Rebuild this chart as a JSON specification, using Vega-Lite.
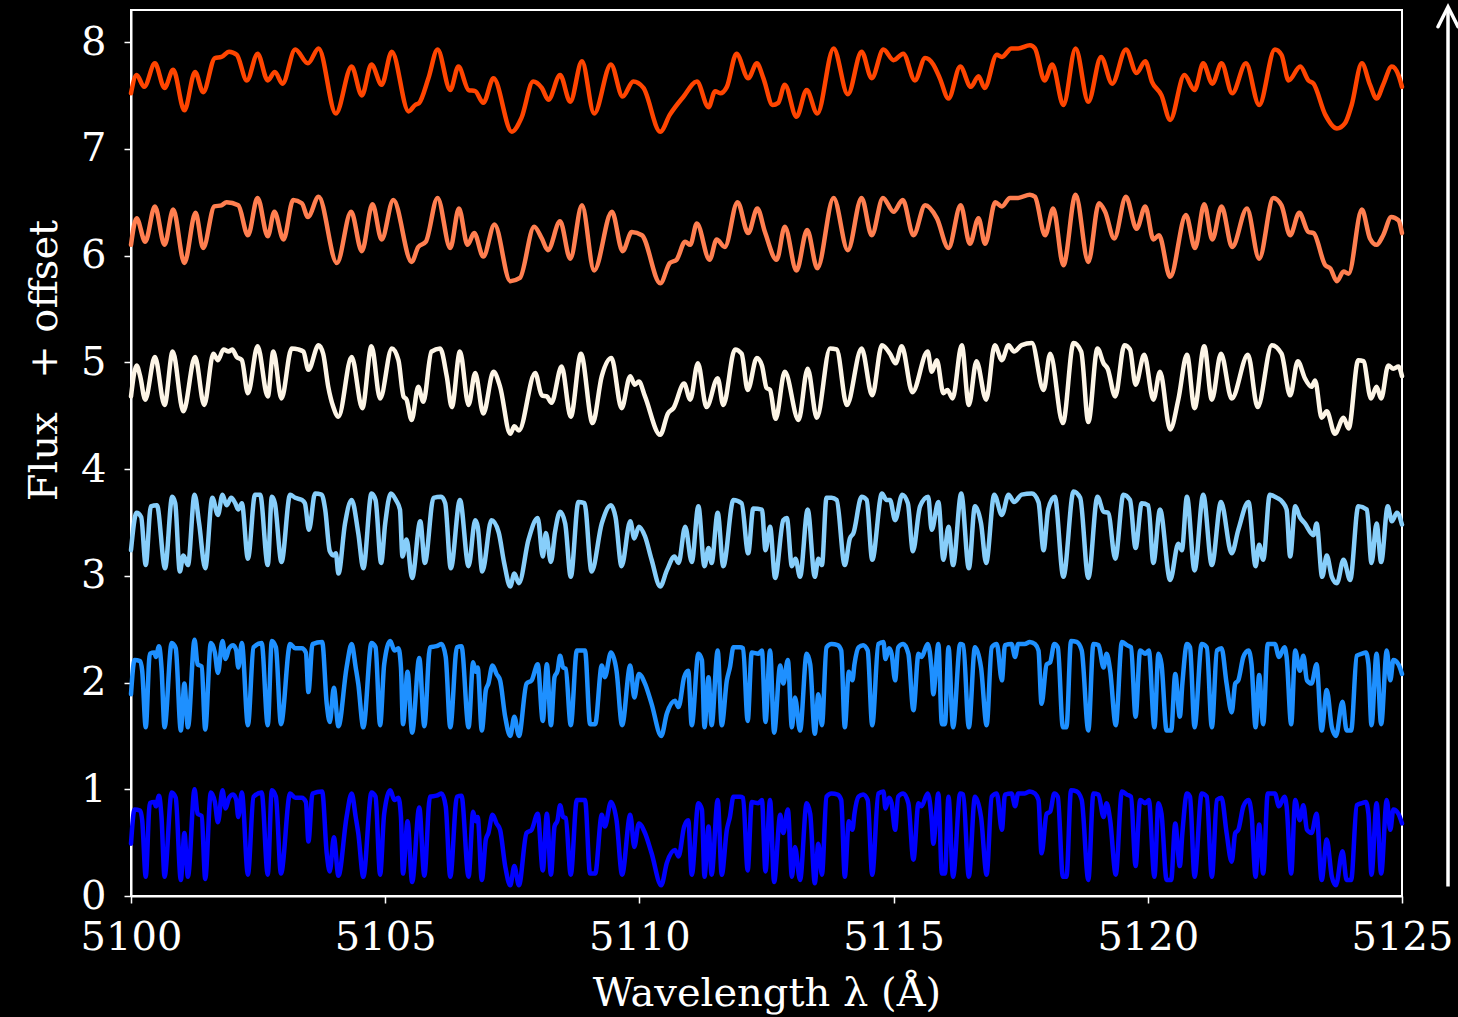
{
"$schema":"https://vega.github.io/schema/vega-lite/v6.json",
"width":1271,"height":886,
"autosize":{"type":"none"},
"padding":{"left":131,"top":10,"right":56,"bottom":121},
"background":"#000000",
"config":{"view":{"stroke":"#FFFFFF","strokeWidth":2},"font":"DejaVu Serif",
"axis":{"domainColor":"#FFFFFF","domainWidth":2,"tickColor":"#FFFFFF","tickWidth":1.5,"tickSize":7,"labelColor":"#FFFFFF","labelFont":"DejaVu Serif","labelFontSize":40,"titleColor":"#FFFFFF","titleFont":"DejaVu Serif","titleFontSize":40,"titleFontWeight":"normal","grid":false,"labelOverlap":false,"labelFlush":false,"labelBound":false}},
"datasets":{
"a":[{"w":5100.00,"f":0.49},{"w":5100.07,"f":0.81},{"w":5100.18,"f":0.80},{"w":5100.22,"f":0.71},{"w":5100.29,"f":0.18},{"w":5100.37,"f":0.87},{"w":5100.46,"f":0.88},{"w":5100.49,"f":0.84},{"w":5100.55,"f":0.94},{"w":5100.60,"f":0.74},{"w":5100.66,"f":0.18},{"w":5100.80,"f":0.97},{"w":5100.88,"f":0.92},{"w":5100.98,"f":0.15},{"w":5101.05,"f":0.59},{"w":5101.12,"f":0.18},{"w":5101.25,"f":1.00},{"w":5101.31,"f":0.77},{"w":5101.39,"f":0.75},{"w":5101.46,"f":0.16},{"w":5101.57,"f":0.97},{"w":5101.65,"f":0.88},{"w":5101.71,"f":0.69},{"w":5101.80,"f":0.99},{"w":5101.86,"f":0.82},{"w":5101.93,"f":0.92},{"w":5102.01,"f":0.95},{"w":5102.07,"f":0.90},{"w":5102.11,"f":0.74},{"w":5102.18,"f":0.97},{"w":5102.30,"f":0.20},{"w":5102.41,"f":0.93},{"w":5102.57,"f":0.97},{"w":5102.69,"f":0.20},{"w":5102.77,"f":0.99},{"w":5102.85,"f":0.93},{"w":5102.95,"f":0.21},{"w":5103.13,"f":0.96},{"w":5103.23,"f":0.92},{"w":5103.36,"f":0.92},{"w":5103.44,"f":0.88},{"w":5103.49,"f":0.51},{"w":5103.57,"f":0.96},{"w":5103.76,"f":0.98},{"w":5103.85,"f":0.40},{"w":5103.91,"f":0.23},{"w":5103.99,"f":0.55},{"w":5104.08,"f":0.19},{"w":5104.24,"f":0.74},{"w":5104.34,"f":0.96},{"w":5104.42,"f":0.74},{"w":5104.47,"f":0.59},{"w":5104.57,"f":0.18},{"w":5104.73,"f":0.97},{"w":5104.81,"f":0.93},{"w":5104.90,"f":0.20},{"w":5104.98,"f":0.77},{"w":5105.10,"f":0.99},{"w":5105.18,"f":0.90},{"w":5105.26,"f":0.92},{"w":5105.31,"f":0.74},{"w":5105.35,"f":0.21},{"w":5105.44,"f":0.70},{"w":5105.53,"f":0.13},{"w":5105.67,"f":0.83},{"w":5105.77,"f":0.19},{"w":5105.88,"f":0.93},{"w":5106.01,"f":0.94},{"w":5106.11,"f":0.96},{"w":5106.19,"f":0.84},{"w":5106.28,"f":0.18},{"w":5106.41,"f":0.93},{"w":5106.50,"f":0.94},{"w":5106.64,"f":0.18},{"w":5106.73,"f":0.79},{"w":5106.78,"f":0.70},{"w":5106.82,"f":0.74},{"w":5106.90,"f":0.15},{"w":5106.98,"f":0.53},{"w":5107.03,"f":0.59},{"w":5107.11,"f":0.76},{"w":5107.19,"f":0.68},{"w":5107.26,"f":0.62},{"w":5107.36,"f":0.28},{"w":5107.46,"f":0.10},{"w":5107.54,"f":0.28},{"w":5107.63,"f":0.10},{"w":5107.78,"f":0.59},{"w":5107.88,"f":0.62},{"w":5108.00,"f":0.77},{"w":5108.10,"f":0.24},{"w":5108.18,"f":0.77},{"w":5108.26,"f":0.20},{"w":5108.33,"f":0.65},{"w":5108.39,"f":0.71},{"w":5108.44,"f":0.85},{"w":5108.50,"f":0.74},{"w":5108.55,"f":0.73},{"w":5108.65,"f":0.20},{"w":5108.77,"f":0.90},{"w":5108.93,"f":0.90},{"w":5109.03,"f":0.21},{"w":5109.13,"f":0.21},{"w":5109.26,"f":0.76},{"w":5109.32,"f":0.65},{"w":5109.44,"f":0.88},{"w":5109.55,"f":0.71},{"w":5109.66,"f":0.20},{"w":5109.82,"f":0.76},{"w":5109.90,"f":0.46},{"w":5109.99,"f":0.68},{"w":5110.11,"f":0.59},{"w":5110.24,"f":0.40},{"w":5110.43,"f":0.10},{"w":5110.54,"f":0.31},{"w":5110.70,"f":0.43},{"w":5110.77,"f":0.37},{"w":5110.88,"f":0.65},{"w":5110.96,"f":0.71},{"w":5111.03,"f":0.20},{"w":5111.16,"f":0.87},{"w":5111.23,"f":0.81},{"w":5111.28,"f":0.18},{"w":5111.36,"f":0.65},{"w":5111.42,"f":0.20},{"w":5111.54,"f":0.90},{"w":5111.62,"f":0.20},{"w":5111.72,"f":0.62},{"w":5111.78,"f":0.74},{"w":5111.85,"f":0.93},{"w":5111.98,"f":0.93},{"w":5112.04,"f":0.92},{"w":5112.13,"f":0.24},{"w":5112.21,"f":0.88},{"w":5112.34,"f":0.87},{"w":5112.41,"f":0.90},{"w":5112.48,"f":0.23},{"w":5112.57,"f":0.90},{"w":5112.65,"f":0.13},{"w":5112.77,"f":0.76},{"w":5112.83,"f":0.59},{"w":5112.92,"f":0.81},{"w":5113.00,"f":0.18},{"w":5113.06,"f":0.46},{"w":5113.16,"f":0.15},{"w":5113.29,"f":0.87},{"w":5113.36,"f":0.77},{"w":5113.45,"f":0.12},{"w":5113.52,"f":0.49},{"w":5113.59,"f":0.20},{"w":5113.68,"f":0.93},{"w":5113.78,"f":0.96},{"w":5113.90,"f":0.95},{"w":5113.97,"f":0.90},{"w":5114.04,"f":0.18},{"w":5114.12,"f":0.70},{"w":5114.19,"f":0.62},{"w":5114.23,"f":0.77},{"w":5114.31,"f":0.93},{"w":5114.40,"f":0.95},{"w":5114.49,"f":0.90},{"w":5114.58,"f":0.20},{"w":5114.70,"f":0.96},{"w":5114.80,"f":0.98},{"w":5114.84,"f":0.82},{"w":5114.91,"f":0.92},{"w":5114.96,"f":0.87},{"w":5115.03,"f":0.62},{"w":5115.09,"f":0.93},{"w":5115.19,"f":0.96},{"w":5115.29,"f":0.87},{"w":5115.39,"f":0.34},{"w":5115.49,"f":0.87},{"w":5115.55,"f":0.84},{"w":5115.67,"f":0.96},{"w":5115.75,"f":0.70},{"w":5115.78,"f":0.49},{"w":5115.88,"f":0.96},{"w":5115.95,"f":0.21},{"w":5116.01,"f":0.21},{"w":5116.08,"f":0.93},{"w":5116.17,"f":0.18},{"w":5116.31,"f":0.96},{"w":5116.37,"f":0.95},{"w":5116.48,"f":0.18},{"w":5116.60,"f":0.93},{"w":5116.72,"f":0.74},{"w":5116.83,"f":0.20},{"w":5116.93,"f":0.93},{"w":5117.03,"f":0.96},{"w":5117.13,"f":0.62},{"w":5117.19,"f":0.95},{"w":5117.32,"f":0.96},{"w":5117.39,"f":0.84},{"w":5117.45,"f":0.96},{"w":5117.58,"f":0.96},{"w":5117.68,"f":0.98},{"w":5117.78,"f":0.96},{"w":5117.85,"f":0.90},{"w":5117.91,"f":0.40},{"w":5118.01,"f":0.77},{"w":5118.08,"f":0.79},{"w":5118.16,"f":0.96},{"w":5118.23,"f":0.93},{"w":5118.33,"f":0.18},{"w":5118.40,"f":0.18},{"w":5118.49,"f":0.99},{"w":5118.60,"f":0.98},{"w":5118.70,"f":0.90},{"w":5118.83,"f":0.15},{"w":5118.93,"f":0.96},{"w":5119.03,"f":0.95},{"w":5119.13,"f":0.74},{"w":5119.19,"f":0.87},{"w":5119.26,"f":0.71},{"w":5119.37,"f":0.20},{"w":5119.49,"f":0.98},{"w":5119.59,"f":0.95},{"w":5119.67,"f":0.93},{"w":5119.76,"f":0.28},{"w":5119.85,"f":0.90},{"w":5119.95,"f":0.87},{"w":5120.02,"f":0.90},{"w":5120.13,"f":0.18},{"w":5120.21,"f":0.87},{"w":5120.27,"f":0.77},{"w":5120.37,"f":0.15},{"w":5120.46,"f":0.15},{"w":5120.54,"f":0.68},{"w":5120.63,"f":0.28},{"w":5120.68,"f":0.59},{"w":5120.77,"f":0.96},{"w":5120.83,"f":0.93},{"w":5120.92,"f":0.18},{"w":5121.06,"f":0.96},{"w":5121.16,"f":0.93},{"w":5121.26,"f":0.18},{"w":5121.36,"f":0.90},{"w":5121.45,"f":0.92},{"w":5121.55,"f":0.59},{"w":5121.65,"f":0.32},{"w":5121.72,"f":0.59},{"w":5121.78,"f":0.62},{"w":5121.88,"f":0.84},{"w":5121.98,"f":0.90},{"w":5122.04,"f":0.77},{"w":5122.12,"f":0.18},{"w":5122.19,"f":0.67},{"w":5122.27,"f":0.21},{"w":5122.36,"f":0.96},{"w":5122.50,"f":0.96},{"w":5122.58,"f":0.84},{"w":5122.69,"f":0.93},{"w":5122.73,"f":0.84},{"w":5122.82,"f":0.21},{"w":5122.90,"f":0.90},{"w":5122.99,"f":0.71},{"w":5123.06,"f":0.85},{"w":5123.13,"f":0.62},{"w":5123.22,"f":0.59},{"w":5123.32,"f":0.77},{"w":5123.42,"f":0.15},{"w":5123.52,"f":0.53},{"w":5123.62,"f":0.18},{"w":5123.70,"f":0.10},{"w":5123.83,"f":0.42},{"w":5123.91,"f":0.15},{"w":5124.00,"f":0.15},{"w":5124.11,"f":0.85},{"w":5124.21,"f":0.87},{"w":5124.29,"f":0.88},{"w":5124.34,"f":0.77},{"w":5124.40,"f":0.20},{"w":5124.50,"f":0.87},{"w":5124.59,"f":0.21},{"w":5124.70,"f":0.90},{"w":5124.77,"f":0.62},{"w":5124.83,"f":0.81},{"w":5124.93,"f":0.77},{"w":5125.00,"f":0.68}],
"b":[{"w":5100.00,"f":1.89},{"w":5100.07,"f":2.21},{"w":5100.18,"f":2.20},{"w":5100.22,"f":2.11},{"w":5100.29,"f":1.58},{"w":5100.37,"f":2.27},{"w":5100.46,"f":2.28},{"w":5100.49,"f":2.24},{"w":5100.55,"f":2.34},{"w":5100.60,"f":2.14},{"w":5100.66,"f":1.58},{"w":5100.80,"f":2.37},{"w":5100.88,"f":2.32},{"w":5100.98,"f":1.55},{"w":5101.05,"f":1.99},{"w":5101.12,"f":1.58},{"w":5101.25,"f":2.40},{"w":5101.31,"f":2.17},{"w":5101.39,"f":2.15},{"w":5101.46,"f":1.56},{"w":5101.57,"f":2.37},{"w":5101.65,"f":2.28},{"w":5101.71,"f":2.09},{"w":5101.80,"f":2.39},{"w":5101.86,"f":2.22},{"w":5101.93,"f":2.32},{"w":5102.01,"f":2.35},{"w":5102.07,"f":2.30},{"w":5102.11,"f":2.14},{"w":5102.18,"f":2.37},{"w":5102.30,"f":1.60},{"w":5102.41,"f":2.33},{"w":5102.57,"f":2.37},{"w":5102.69,"f":1.60},{"w":5102.77,"f":2.39},{"w":5102.85,"f":2.33},{"w":5102.95,"f":1.61},{"w":5103.13,"f":2.36},{"w":5103.23,"f":2.32},{"w":5103.36,"f":2.32},{"w":5103.44,"f":2.28},{"w":5103.49,"f":1.91},{"w":5103.57,"f":2.36},{"w":5103.76,"f":2.38},{"w":5103.85,"f":1.80},{"w":5103.91,"f":1.63},{"w":5103.99,"f":1.95},{"w":5104.08,"f":1.59},{"w":5104.24,"f":2.14},{"w":5104.34,"f":2.36},{"w":5104.42,"f":2.14},{"w":5104.47,"f":1.99},{"w":5104.57,"f":1.58},{"w":5104.73,"f":2.37},{"w":5104.81,"f":2.33},{"w":5104.90,"f":1.60},{"w":5104.98,"f":2.17},{"w":5105.10,"f":2.39},{"w":5105.18,"f":2.30},{"w":5105.26,"f":2.32},{"w":5105.31,"f":2.14},{"w":5105.35,"f":1.61},{"w":5105.44,"f":2.10},{"w":5105.53,"f":1.53},{"w":5105.67,"f":2.23},{"w":5105.77,"f":1.59},{"w":5105.88,"f":2.33},{"w":5106.01,"f":2.34},{"w":5106.11,"f":2.36},{"w":5106.19,"f":2.24},{"w":5106.28,"f":1.58},{"w":5106.41,"f":2.33},{"w":5106.50,"f":2.34},{"w":5106.64,"f":1.58},{"w":5106.73,"f":2.19},{"w":5106.78,"f":2.10},{"w":5106.82,"f":2.14},{"w":5106.90,"f":1.55},{"w":5106.98,"f":1.93},{"w":5107.03,"f":1.99},{"w":5107.11,"f":2.16},{"w":5107.19,"f":2.08},{"w":5107.26,"f":2.02},{"w":5107.36,"f":1.68},{"w":5107.46,"f":1.50},{"w":5107.54,"f":1.68},{"w":5107.63,"f":1.50},{"w":5107.78,"f":1.99},{"w":5107.88,"f":2.02},{"w":5108.00,"f":2.17},{"w":5108.10,"f":1.64},{"w":5108.18,"f":2.17},{"w":5108.26,"f":1.60},{"w":5108.33,"f":2.05},{"w":5108.39,"f":2.11},{"w":5108.44,"f":2.25},{"w":5108.50,"f":2.14},{"w":5108.55,"f":2.13},{"w":5108.65,"f":1.60},{"w":5108.77,"f":2.30},{"w":5108.93,"f":2.30},{"w":5109.03,"f":1.61},{"w":5109.13,"f":1.61},{"w":5109.26,"f":2.16},{"w":5109.32,"f":2.05},{"w":5109.44,"f":2.28},{"w":5109.55,"f":2.11},{"w":5109.66,"f":1.60},{"w":5109.82,"f":2.16},{"w":5109.90,"f":1.86},{"w":5109.99,"f":2.08},{"w":5110.11,"f":1.99},{"w":5110.24,"f":1.80},{"w":5110.43,"f":1.50},{"w":5110.54,"f":1.71},{"w":5110.70,"f":1.83},{"w":5110.77,"f":1.77},{"w":5110.88,"f":2.05},{"w":5110.96,"f":2.11},{"w":5111.03,"f":1.60},{"w":5111.16,"f":2.27},{"w":5111.23,"f":2.21},{"w":5111.28,"f":1.58},{"w":5111.36,"f":2.05},{"w":5111.42,"f":1.60},{"w":5111.54,"f":2.30},{"w":5111.62,"f":1.60},{"w":5111.72,"f":2.02},{"w":5111.78,"f":2.14},{"w":5111.85,"f":2.33},{"w":5111.98,"f":2.33},{"w":5112.04,"f":2.32},{"w":5112.13,"f":1.64},{"w":5112.21,"f":2.28},{"w":5112.34,"f":2.27},{"w":5112.41,"f":2.30},{"w":5112.48,"f":1.63},{"w":5112.57,"f":2.30},{"w":5112.65,"f":1.53},{"w":5112.77,"f":2.16},{"w":5112.83,"f":1.99},{"w":5112.92,"f":2.21},{"w":5113.00,"f":1.58},{"w":5113.06,"f":1.86},{"w":5113.16,"f":1.55},{"w":5113.29,"f":2.27},{"w":5113.36,"f":2.17},{"w":5113.45,"f":1.52},{"w":5113.52,"f":1.89},{"w":5113.59,"f":1.60},{"w":5113.68,"f":2.33},{"w":5113.78,"f":2.36},{"w":5113.90,"f":2.35},{"w":5113.97,"f":2.30},{"w":5114.04,"f":1.58},{"w":5114.12,"f":2.10},{"w":5114.19,"f":2.02},{"w":5114.23,"f":2.17},{"w":5114.31,"f":2.33},{"w":5114.40,"f":2.35},{"w":5114.49,"f":2.30},{"w":5114.58,"f":1.60},{"w":5114.70,"f":2.36},{"w":5114.80,"f":2.38},{"w":5114.84,"f":2.22},{"w":5114.91,"f":2.32},{"w":5114.96,"f":2.27},{"w":5115.03,"f":2.02},{"w":5115.09,"f":2.33},{"w":5115.19,"f":2.36},{"w":5115.29,"f":2.27},{"w":5115.39,"f":1.74},{"w":5115.49,"f":2.27},{"w":5115.55,"f":2.24},{"w":5115.67,"f":2.36},{"w":5115.75,"f":2.10},{"w":5115.78,"f":1.89},{"w":5115.88,"f":2.36},{"w":5115.95,"f":1.61},{"w":5116.01,"f":1.61},{"w":5116.08,"f":2.33},{"w":5116.17,"f":1.58},{"w":5116.31,"f":2.36},{"w":5116.37,"f":2.35},{"w":5116.48,"f":1.58},{"w":5116.60,"f":2.33},{"w":5116.72,"f":2.14},{"w":5116.83,"f":1.60},{"w":5116.93,"f":2.33},{"w":5117.03,"f":2.36},{"w":5117.13,"f":2.02},{"w":5117.19,"f":2.35},{"w":5117.32,"f":2.36},{"w":5117.39,"f":2.24},{"w":5117.45,"f":2.36},{"w":5117.58,"f":2.36},{"w":5117.68,"f":2.38},{"w":5117.78,"f":2.36},{"w":5117.85,"f":2.30},{"w":5117.91,"f":1.80},{"w":5118.01,"f":2.17},{"w":5118.08,"f":2.19},{"w":5118.16,"f":2.36},{"w":5118.23,"f":2.33},{"w":5118.33,"f":1.58},{"w":5118.40,"f":1.58},{"w":5118.49,"f":2.39},{"w":5118.60,"f":2.38},{"w":5118.70,"f":2.30},{"w":5118.83,"f":1.55},{"w":5118.93,"f":2.36},{"w":5119.03,"f":2.35},{"w":5119.13,"f":2.14},{"w":5119.19,"f":2.27},{"w":5119.26,"f":2.11},{"w":5119.37,"f":1.60},{"w":5119.49,"f":2.38},{"w":5119.59,"f":2.35},{"w":5119.67,"f":2.33},{"w":5119.76,"f":1.68},{"w":5119.85,"f":2.30},{"w":5119.95,"f":2.27},{"w":5120.02,"f":2.30},{"w":5120.13,"f":1.58},{"w":5120.21,"f":2.27},{"w":5120.27,"f":2.17},{"w":5120.37,"f":1.55},{"w":5120.46,"f":1.55},{"w":5120.54,"f":2.08},{"w":5120.63,"f":1.68},{"w":5120.68,"f":1.99},{"w":5120.77,"f":2.36},{"w":5120.83,"f":2.33},{"w":5120.92,"f":1.58},{"w":5121.06,"f":2.36},{"w":5121.16,"f":2.33},{"w":5121.26,"f":1.58},{"w":5121.36,"f":2.30},{"w":5121.45,"f":2.32},{"w":5121.55,"f":1.99},{"w":5121.65,"f":1.72},{"w":5121.72,"f":1.99},{"w":5121.78,"f":2.02},{"w":5121.88,"f":2.24},{"w":5121.98,"f":2.30},{"w":5122.04,"f":2.17},{"w":5122.12,"f":1.58},{"w":5122.19,"f":2.07},{"w":5122.27,"f":1.61},{"w":5122.36,"f":2.36},{"w":5122.50,"f":2.36},{"w":5122.58,"f":2.24},{"w":5122.69,"f":2.33},{"w":5122.73,"f":2.24},{"w":5122.82,"f":1.61},{"w":5122.90,"f":2.30},{"w":5122.99,"f":2.11},{"w":5123.06,"f":2.25},{"w":5123.13,"f":2.02},{"w":5123.22,"f":1.99},{"w":5123.32,"f":2.17},{"w":5123.42,"f":1.55},{"w":5123.52,"f":1.93},{"w":5123.62,"f":1.58},{"w":5123.70,"f":1.50},{"w":5123.83,"f":1.82},{"w":5123.91,"f":1.55},{"w":5124.00,"f":1.55},{"w":5124.11,"f":2.25},{"w":5124.21,"f":2.27},{"w":5124.29,"f":2.28},{"w":5124.34,"f":2.17},{"w":5124.40,"f":1.60},{"w":5124.50,"f":2.27},{"w":5124.59,"f":1.61},{"w":5124.70,"f":2.30},{"w":5124.77,"f":2.02},{"w":5124.83,"f":2.21},{"w":5124.93,"f":2.17},{"w":5125.00,"f":2.08}],
"c":[{"w":5100.00,"f":3.24},{"w":5100.11,"f":3.59},{"w":5100.20,"f":3.55},{"w":5100.29,"f":3.10},{"w":5100.39,"f":3.65},{"w":5100.51,"f":3.66},{"w":5100.67,"f":3.07},{"w":5100.81,"f":3.74},{"w":5100.87,"f":3.68},{"w":5100.96,"f":3.04},{"w":5101.03,"f":3.19},{"w":5101.12,"f":3.10},{"w":5101.25,"f":3.76},{"w":5101.34,"f":3.49},{"w":5101.46,"f":3.07},{"w":5101.60,"f":3.73},{"w":5101.71,"f":3.57},{"w":5101.80,"f":3.76},{"w":5101.88,"f":3.66},{"w":5101.97,"f":3.73},{"w":5102.05,"f":3.68},{"w":5102.11,"f":3.62},{"w":5102.18,"f":3.68},{"w":5102.30,"f":3.16},{"w":5102.44,"f":3.76},{"w":5102.54,"f":3.76},{"w":5102.69,"f":3.10},{"w":5102.77,"f":3.74},{"w":5102.83,"f":3.68},{"w":5102.96,"f":3.13},{"w":5103.13,"f":3.76},{"w":5103.23,"f":3.73},{"w":5103.36,"f":3.71},{"w":5103.42,"f":3.68},{"w":5103.50,"f":3.43},{"w":5103.62,"f":3.77},{"w":5103.75,"f":3.76},{"w":5103.82,"f":3.62},{"w":5103.91,"f":3.23},{"w":5103.98,"f":3.19},{"w":5104.03,"f":3.21},{"w":5104.08,"f":3.02},{"w":5104.21,"f":3.49},{"w":5104.34,"f":3.71},{"w":5104.47,"f":3.40},{"w":5104.57,"f":3.07},{"w":5104.73,"f":3.77},{"w":5104.81,"f":3.71},{"w":5104.92,"f":3.12},{"w":5105.00,"f":3.49},{"w":5105.11,"f":3.77},{"w":5105.21,"f":3.71},{"w":5105.29,"f":3.62},{"w":5105.34,"f":3.18},{"w":5105.42,"f":3.34},{"w":5105.53,"f":2.98},{"w":5105.69,"f":3.51},{"w":5105.78,"f":3.12},{"w":5105.95,"f":3.73},{"w":5106.10,"f":3.74},{"w":5106.18,"f":3.68},{"w":5106.29,"f":3.07},{"w":5106.47,"f":3.71},{"w":5106.64,"f":3.09},{"w":5106.77,"f":3.52},{"w":5106.82,"f":3.46},{"w":5106.91,"f":3.04},{"w":5107.09,"f":3.52},{"w":5107.23,"f":3.41},{"w":5107.34,"f":3.12},{"w":5107.46,"f":2.90},{"w":5107.54,"f":3.02},{"w":5107.63,"f":2.93},{"w":5107.82,"f":3.34},{"w":5108.00,"f":3.54},{"w":5108.10,"f":3.18},{"w":5108.16,"f":3.40},{"w":5108.26,"f":3.13},{"w":5108.34,"f":3.41},{"w":5108.44,"f":3.60},{"w":5108.54,"f":3.49},{"w":5108.65,"f":2.99},{"w":5108.80,"f":3.69},{"w":5108.92,"f":3.68},{"w":5109.06,"f":3.04},{"w":5109.26,"f":3.49},{"w":5109.44,"f":3.66},{"w":5109.53,"f":3.55},{"w":5109.65,"f":3.09},{"w":5109.82,"f":3.51},{"w":5109.90,"f":3.35},{"w":5109.99,"f":3.46},{"w":5110.11,"f":3.37},{"w":5110.24,"f":3.15},{"w":5110.41,"f":2.90},{"w":5110.54,"f":3.05},{"w":5110.69,"f":3.18},{"w":5110.77,"f":3.12},{"w":5110.90,"f":3.46},{"w":5111.03,"f":3.13},{"w":5111.16,"f":3.65},{"w":5111.28,"f":3.09},{"w":5111.36,"f":3.26},{"w":5111.42,"f":3.12},{"w":5111.54,"f":3.59},{"w":5111.65,"f":3.09},{"w":5111.85,"f":3.71},{"w":5112.01,"f":3.68},{"w":5112.14,"f":3.21},{"w":5112.24,"f":3.63},{"w":5112.41,"f":3.62},{"w":5112.48,"f":3.24},{"w":5112.57,"f":3.46},{"w":5112.67,"f":2.98},{"w":5112.83,"f":3.52},{"w":5112.90,"f":3.54},{"w":5113.00,"f":3.09},{"w":5113.07,"f":3.16},{"w":5113.16,"f":2.99},{"w":5113.31,"f":3.62},{"w":5113.45,"f":2.99},{"w":5113.52,"f":3.16},{"w":5113.59,"f":3.10},{"w":5113.68,"f":3.73},{"w":5113.78,"f":3.73},{"w":5113.88,"f":3.71},{"w":5114.04,"f":3.10},{"w":5114.14,"f":3.35},{"w":5114.21,"f":3.40},{"w":5114.37,"f":3.74},{"w":5114.47,"f":3.71},{"w":5114.58,"f":3.15},{"w":5114.77,"f":3.77},{"w":5114.86,"f":3.71},{"w":5114.93,"f":3.71},{"w":5115.03,"f":3.52},{"w":5115.17,"f":3.76},{"w":5115.28,"f":3.68},{"w":5115.38,"f":3.23},{"w":5115.52,"f":3.65},{"w":5115.68,"f":3.74},{"w":5115.75,"f":3.43},{"w":5115.88,"f":3.69},{"w":5115.98,"f":3.15},{"w":5116.08,"f":3.46},{"w":5116.17,"f":3.10},{"w":5116.33,"f":3.77},{"w":5116.48,"f":3.07},{"w":5116.60,"f":3.65},{"w":5116.72,"f":3.49},{"w":5116.82,"f":3.12},{"w":5116.98,"f":3.76},{"w":5117.13,"f":3.57},{"w":5117.26,"f":3.76},{"w":5117.37,"f":3.69},{"w":5117.52,"f":3.76},{"w":5117.72,"f":3.77},{"w":5117.85,"f":3.69},{"w":5117.95,"f":3.24},{"w":5118.04,"f":3.62},{"w":5118.17,"f":3.74},{"w":5118.34,"f":2.99},{"w":5118.54,"f":3.79},{"w":5118.67,"f":3.73},{"w":5118.83,"f":2.98},{"w":5119.01,"f":3.74},{"w":5119.13,"f":3.60},{"w":5119.22,"f":3.59},{"w":5119.36,"f":3.16},{"w":5119.52,"f":3.76},{"w":5119.65,"f":3.71},{"w":5119.76,"f":3.26},{"w":5119.88,"f":3.68},{"w":5120.01,"f":3.66},{"w":5120.11,"f":3.12},{"w":5120.24,"f":3.62},{"w":5120.44,"f":2.96},{"w":5120.60,"f":3.30},{"w":5120.67,"f":3.24},{"w":5120.77,"f":3.74},{"w":5120.92,"f":3.05},{"w":5121.09,"f":3.76},{"w":5121.26,"f":3.10},{"w":5121.44,"f":3.69},{"w":5121.65,"f":3.21},{"w":5121.78,"f":3.43},{"w":5121.98,"f":3.69},{"w":5122.12,"f":3.09},{"w":5122.19,"f":3.29},{"w":5122.27,"f":3.15},{"w":5122.40,"f":3.76},{"w":5122.54,"f":3.73},{"w":5122.65,"f":3.69},{"w":5122.73,"f":3.62},{"w":5122.80,"f":3.18},{"w":5122.90,"f":3.65},{"w":5122.99,"f":3.55},{"w":5123.09,"f":3.49},{"w":5123.26,"f":3.38},{"w":5123.32,"f":3.49},{"w":5123.43,"f":2.99},{"w":5123.52,"f":3.19},{"w":5123.62,"f":2.99},{"w":5123.72,"f":2.93},{"w":5123.85,"f":3.15},{"w":5123.98,"f":2.96},{"w":5124.14,"f":3.65},{"w":5124.31,"f":3.62},{"w":5124.40,"f":3.12},{"w":5124.50,"f":3.49},{"w":5124.59,"f":3.13},{"w":5124.72,"f":3.65},{"w":5124.80,"f":3.51},{"w":5124.90,"f":3.59},{"w":5125.00,"f":3.48}],
"d":[{"w":5100.00,"f":4.68},{"w":5100.11,"f":4.97},{"w":5100.18,"f":4.87},{"w":5100.28,"f":4.65},{"w":5100.47,"f":5.05},{"w":5100.66,"f":4.60},{"w":5100.82,"f":5.10},{"w":5101.03,"f":4.54},{"w":5101.26,"f":5.05},{"w":5101.44,"f":4.60},{"w":5101.62,"f":5.08},{"w":5101.71,"f":5.02},{"w":5101.82,"f":5.12},{"w":5101.92,"f":5.10},{"w":5101.99,"f":5.12},{"w":5102.08,"f":5.05},{"w":5102.18,"f":5.02},{"w":5102.30,"f":4.71},{"w":5102.49,"f":5.15},{"w":5102.69,"f":4.68},{"w":5102.80,"f":5.10},{"w":5102.96,"f":4.66},{"w":5103.16,"f":5.13},{"w":5103.29,"f":5.12},{"w":5103.39,"f":5.10},{"w":5103.49,"f":4.93},{"w":5103.69,"f":5.16},{"w":5103.78,"f":5.08},{"w":5103.88,"f":4.77},{"w":5103.98,"f":4.58},{"w":5104.08,"f":4.49},{"w":5104.34,"f":5.05},{"w":5104.55,"f":4.57},{"w":5104.73,"f":5.15},{"w":5104.90,"f":4.66},{"w":5105.13,"f":5.13},{"w":5105.26,"f":5.02},{"w":5105.36,"f":4.68},{"w":5105.42,"f":4.65},{"w":5105.52,"f":4.46},{"w":5105.65,"f":4.77},{"w":5105.75,"f":4.63},{"w":5105.91,"f":5.10},{"w":5106.08,"f":5.13},{"w":5106.21,"f":4.87},{"w":5106.31,"f":4.58},{"w":5106.47,"f":5.10},{"w":5106.64,"f":4.60},{"w":5106.77,"f":4.90},{"w":5106.93,"f":4.52},{"w":5107.13,"f":4.91},{"w":5107.26,"f":4.77},{"w":5107.46,"f":4.33},{"w":5107.54,"f":4.40},{"w":5107.63,"f":4.36},{"w":5107.95,"f":4.90},{"w":5108.08,"f":4.69},{"w":5108.18,"f":4.68},{"w":5108.27,"f":4.62},{"w":5108.47,"f":4.96},{"w":5108.65,"f":4.49},{"w":5108.85,"f":5.08},{"w":5109.08,"f":4.43},{"w":5109.26,"f":4.87},{"w":5109.45,"f":5.04},{"w":5109.65,"f":4.57},{"w":5109.82,"f":4.87},{"w":5109.91,"f":4.79},{"w":5109.99,"f":4.82},{"w":5110.11,"f":4.68},{"w":5110.41,"f":4.32},{"w":5110.56,"f":4.52},{"w":5110.67,"f":4.57},{"w":5110.88,"f":4.80},{"w":5111.00,"f":4.65},{"w":5111.15,"f":4.99},{"w":5111.32,"f":4.58},{"w":5111.54,"f":4.85},{"w":5111.65,"f":4.60},{"w":5111.88,"f":5.12},{"w":5112.01,"f":5.08},{"w":5112.13,"f":4.74},{"w":5112.31,"f":5.04},{"w":5112.41,"f":4.97},{"w":5112.50,"f":4.76},{"w":5112.57,"f":4.74},{"w":5112.68,"f":4.47},{"w":5112.86,"f":4.91},{"w":5113.13,"f":4.46},{"w":5113.31,"f":4.94},{"w":5113.49,"f":4.48},{"w":5113.75,"f":5.13},{"w":5113.88,"f":5.12},{"w":5114.08,"f":4.60},{"w":5114.37,"f":5.13},{"w":5114.58,"f":4.69},{"w":5114.77,"f":5.16},{"w":5114.93,"f":5.08},{"w":5115.04,"f":4.99},{"w":5115.16,"f":5.15},{"w":5115.37,"f":4.72},{"w":5115.67,"f":5.10},{"w":5115.75,"f":4.91},{"w":5115.85,"f":5.02},{"w":5115.98,"f":4.71},{"w":5116.06,"f":4.74},{"w":5116.16,"f":4.66},{"w":5116.34,"f":5.16},{"w":5116.48,"f":4.60},{"w":5116.63,"f":5.01},{"w":5116.82,"f":4.65},{"w":5116.99,"f":5.16},{"w":5117.13,"f":5.02},{"w":5117.26,"f":5.16},{"w":5117.37,"f":5.10},{"w":5117.52,"f":5.16},{"w":5117.72,"f":5.18},{"w":5117.95,"f":4.74},{"w":5118.08,"f":5.08},{"w":5118.33,"f":4.43},{"w":5118.54,"f":5.18},{"w":5118.69,"f":5.10},{"w":5118.83,"f":4.44},{"w":5119.01,"f":5.13},{"w":5119.13,"f":4.99},{"w":5119.21,"f":4.94},{"w":5119.36,"f":4.68},{"w":5119.54,"f":5.16},{"w":5119.65,"f":5.12},{"w":5119.76,"f":4.79},{"w":5119.93,"f":5.07},{"w":5120.11,"f":4.65},{"w":5120.24,"f":4.91},{"w":5120.44,"f":4.37},{"w":5120.60,"f":4.65},{"w":5120.77,"f":5.07},{"w":5120.92,"f":4.57},{"w":5121.11,"f":5.15},{"w":5121.26,"f":4.65},{"w":5121.44,"f":5.08},{"w":5121.65,"f":4.66},{"w":5121.97,"f":5.07},{"w":5122.16,"f":4.58},{"w":5122.44,"f":5.16},{"w":5122.63,"f":5.08},{"w":5122.80,"f":4.69},{"w":5122.95,"f":5.01},{"w":5123.09,"f":4.85},{"w":5123.22,"f":4.77},{"w":5123.29,"f":4.83},{"w":5123.42,"f":4.48},{"w":5123.52,"f":4.54},{"w":5123.68,"f":4.33},{"w":5123.85,"f":4.48},{"w":5123.95,"f":4.38},{"w":5124.14,"f":5.02},{"w":5124.24,"f":5.01},{"w":5124.39,"f":4.66},{"w":5124.50,"f":4.77},{"w":5124.59,"f":4.66},{"w":5124.73,"f":4.97},{"w":5124.83,"f":4.94},{"w":5124.93,"f":4.96},{"w":5125.00,"f":4.87}],
"e":[{"w":5100.00,"f":6.10},{"w":5100.11,"f":6.35},{"w":5100.28,"f":6.13},{"w":5100.47,"f":6.46},{"w":5100.66,"f":6.10},{"w":5100.83,"f":6.43},{"w":5101.05,"f":5.93},{"w":5101.27,"f":6.40},{"w":5101.42,"f":6.07},{"w":5101.64,"f":6.46},{"w":5101.78,"f":6.47},{"w":5101.88,"f":6.50},{"w":5102.11,"f":6.47},{"w":5102.30,"f":6.19},{"w":5102.49,"f":6.54},{"w":5102.69,"f":6.18},{"w":5102.82,"f":6.41},{"w":5103.00,"f":6.15},{"w":5103.19,"f":6.52},{"w":5103.36,"f":6.49},{"w":5103.48,"f":6.36},{"w":5103.69,"f":6.55},{"w":5104.05,"f":5.93},{"w":5104.33,"f":6.41},{"w":5104.54,"f":6.04},{"w":5104.75,"f":6.48},{"w":5104.93,"f":6.15},{"w":5105.16,"f":6.52},{"w":5105.52,"f":5.94},{"w":5105.65,"f":6.08},{"w":5105.80,"f":6.13},{"w":5106.03,"f":6.54},{"w":5106.28,"f":6.07},{"w":5106.45,"f":6.44},{"w":5106.62,"f":6.10},{"w":5106.75,"f":6.21},{"w":5106.93,"f":5.99},{"w":5107.15,"f":6.29},{"w":5107.46,"f":5.76},{"w":5107.65,"f":5.79},{"w":5107.93,"f":6.27},{"w":5108.08,"f":6.16},{"w":5108.20,"f":6.05},{"w":5108.44,"f":6.32},{"w":5108.64,"f":5.97},{"w":5108.87,"f":6.47},{"w":5109.11,"f":5.86},{"w":5109.46,"f":6.41},{"w":5109.67,"f":6.04},{"w":5109.85,"f":6.22},{"w":5110.05,"f":6.19},{"w":5110.41,"f":5.74},{"w":5110.60,"f":5.93},{"w":5110.73,"f":5.96},{"w":5110.90,"f":6.13},{"w":5111.00,"f":6.10},{"w":5111.13,"f":6.30},{"w":5111.38,"f":5.96},{"w":5111.52,"f":6.15},{"w":5111.68,"f":6.08},{"w":5111.93,"f":6.50},{"w":5112.14,"f":6.21},{"w":5112.32,"f":6.44},{"w":5112.47,"f":6.22},{"w":5112.70,"f":5.96},{"w":5112.86,"f":6.27},{"w":5113.09,"f":5.86},{"w":5113.30,"f":6.24},{"w":5113.50,"f":5.88},{"w":5113.82,"f":6.54},{"w":5114.10,"f":6.05},{"w":5114.37,"f":6.54},{"w":5114.57,"f":6.19},{"w":5114.79,"f":6.54},{"w":5115.00,"f":6.41},{"w":5115.18,"f":6.52},{"w":5115.39,"f":6.19},{"w":5115.62,"f":6.47},{"w":5115.85,"f":6.35},{"w":5116.08,"f":6.07},{"w":5116.32,"f":6.47},{"w":5116.50,"f":6.11},{"w":5116.67,"f":6.35},{"w":5116.80,"f":6.11},{"w":5117.00,"f":6.50},{"w":5117.13,"f":6.46},{"w":5117.29,"f":6.54},{"w":5117.45,"f":6.54},{"w":5117.68,"f":6.57},{"w":5117.78,"f":6.55},{"w":5117.98,"f":6.19},{"w":5118.14,"f":6.44},{"w":5118.34,"f":5.91},{"w":5118.58,"f":6.57},{"w":5118.83,"f":5.94},{"w":5119.04,"f":6.49},{"w":5119.16,"f":6.41},{"w":5119.34,"f":6.16},{"w":5119.57,"f":6.55},{"w":5119.78,"f":6.25},{"w":5119.95,"f":6.46},{"w":5120.11,"f":6.15},{"w":5120.22,"f":6.19},{"w":5120.44,"f":5.80},{"w":5120.75,"f":6.38},{"w":5120.93,"f":6.07},{"w":5121.11,"f":6.48},{"w":5121.27,"f":6.15},{"w":5121.45,"f":6.46},{"w":5121.66,"f":6.08},{"w":5121.95,"f":6.44},{"w":5122.19,"f":5.97},{"w":5122.47,"f":6.54},{"w":5122.63,"f":6.47},{"w":5122.80,"f":6.19},{"w":5122.98,"f":6.40},{"w":5123.16,"f":6.22},{"w":5123.26,"f":6.21},{"w":5123.49,"f":5.91},{"w":5123.59,"f":5.88},{"w":5123.72,"f":5.76},{"w":5123.85,"f":5.85},{"w":5123.95,"f":5.83},{"w":5124.21,"f":6.43},{"w":5124.37,"f":6.16},{"w":5124.50,"f":6.10},{"w":5124.63,"f":6.19},{"w":5124.79,"f":6.36},{"w":5124.93,"f":6.33},{"w":5125.00,"f":6.21}],
"g":[{"w":5100.00,"f":7.52},{"w":5100.11,"f":7.69},{"w":5100.26,"f":7.58},{"w":5100.47,"f":7.80},{"w":5100.66,"f":7.57},{"w":5100.83,"f":7.74},{"w":5101.05,"f":7.36},{"w":5101.26,"f":7.72},{"w":5101.42,"f":7.53},{"w":5101.65,"f":7.85},{"w":5101.78,"f":7.86},{"w":5101.93,"f":7.91},{"w":5102.08,"f":7.88},{"w":5102.28,"f":7.64},{"w":5102.49,"f":7.89},{"w":5102.69,"f":7.64},{"w":5102.83,"f":7.72},{"w":5102.98,"f":7.61},{"w":5103.23,"f":7.93},{"w":5103.48,"f":7.80},{"w":5103.69,"f":7.94},{"w":5104.03,"f":7.33},{"w":5104.34,"f":7.77},{"w":5104.54,"f":7.50},{"w":5104.73,"f":7.79},{"w":5104.93,"f":7.60},{"w":5105.13,"f":7.91},{"w":5105.46,"f":7.35},{"w":5105.59,"f":7.41},{"w":5105.67,"f":7.43},{"w":5105.85,"f":7.66},{"w":5106.03,"f":7.93},{"w":5106.28,"f":7.55},{"w":5106.44,"f":7.77},{"w":5106.64,"f":7.55},{"w":5106.77,"f":7.54},{"w":5106.93,"f":7.43},{"w":5107.13,"f":7.66},{"w":5107.49,"f":7.16},{"w":5107.68,"f":7.29},{"w":5107.91,"f":7.63},{"w":5108.08,"f":7.57},{"w":5108.21,"f":7.46},{"w":5108.44,"f":7.69},{"w":5108.64,"f":7.44},{"w":5108.87,"f":7.82},{"w":5109.11,"f":7.33},{"w":5109.44,"f":7.79},{"w":5109.67,"f":7.49},{"w":5109.88,"f":7.63},{"w":5110.08,"f":7.57},{"w":5110.41,"f":7.16},{"w":5110.60,"f":7.32},{"w":5110.87,"f":7.49},{"w":5111.13,"f":7.63},{"w":5111.36,"f":7.39},{"w":5111.49,"f":7.54},{"w":5111.59,"f":7.52},{"w":5111.72,"f":7.58},{"w":5111.91,"f":7.89},{"w":5112.14,"f":7.66},{"w":5112.31,"f":7.80},{"w":5112.44,"f":7.66},{"w":5112.62,"f":7.41},{"w":5112.73,"f":7.43},{"w":5112.86,"f":7.60},{"w":5113.09,"f":7.30},{"w":5113.29,"f":7.55},{"w":5113.50,"f":7.33},{"w":5113.82,"f":7.94},{"w":5114.10,"f":7.51},{"w":5114.37,"f":7.91},{"w":5114.57,"f":7.66},{"w":5114.80,"f":7.93},{"w":5115.00,"f":7.83},{"w":5115.19,"f":7.89},{"w":5115.42,"f":7.64},{"w":5115.62,"f":7.85},{"w":5115.78,"f":7.79},{"w":5115.91,"f":7.66},{"w":5116.08,"f":7.47},{"w":5116.31,"f":7.77},{"w":5116.52,"f":7.58},{"w":5116.67,"f":7.68},{"w":5116.79,"f":7.57},{"w":5117.03,"f":7.88},{"w":5117.13,"f":7.86},{"w":5117.32,"f":7.94},{"w":5117.45,"f":7.94},{"w":5117.68,"f":7.97},{"w":5117.78,"f":7.94},{"w":5117.97,"f":7.64},{"w":5118.12,"f":7.79},{"w":5118.34,"f":7.41},{"w":5118.58,"f":7.94},{"w":5118.83,"f":7.44},{"w":5119.08,"f":7.86},{"w":5119.30,"f":7.61},{"w":5119.57,"f":7.93},{"w":5119.78,"f":7.71},{"w":5119.95,"f":7.82},{"w":5120.08,"f":7.63},{"w":5120.27,"f":7.50},{"w":5120.44,"f":7.27},{"w":5120.72,"f":7.69},{"w":5120.92,"f":7.55},{"w":5121.09,"f":7.80},{"w":5121.27,"f":7.61},{"w":5121.45,"f":7.80},{"w":5121.66,"f":7.52},{"w":5121.93,"f":7.80},{"w":5122.19,"f":7.41},{"w":5122.50,"f":7.93},{"w":5122.63,"f":7.88},{"w":5122.77,"f":7.64},{"w":5123.00,"f":7.77},{"w":5123.16,"f":7.64},{"w":5123.26,"f":7.61},{"w":5123.49,"f":7.32},{"w":5123.72,"f":7.19},{"w":5123.88,"f":7.24},{"w":5124.01,"f":7.41},{"w":5124.21,"f":7.80},{"w":5124.37,"f":7.60},{"w":5124.50,"f":7.47},{"w":5124.63,"f":7.60},{"w":5124.80,"f":7.77},{"w":5124.93,"f":7.69},{"w":5125.00,"f":7.58}]
},
"layer":[
{"encoding":{
"x":{"field":"w","type":"quantitative","scale":{"domain":[5100,5125],"nice":false,"zero":false},
"axis":{"values":[5100,5105,5110,5115,5120,5125],"format":"d","labelPadding":14,"title":"Wavelength λ (Å)","titleY":109,"titleBaseline":"alphabetic","titleAnchor":"middle"}},
"y":{"field":"f","type":"quantitative","scale":{"domain":[0,8.3],"nice":false,"zero":false},
"axis":{"values":[0,1,2,3,4,5,6,7,8],"format":"d","labelPadding":18,"title":"Flux\u00a0\u2009\u00a0+ offset","titleX":-75,"titleY":350,"titleAngle":-90,"titleAlign":"center","titleBaseline":"alphabetic"}}
},
"layer":[
{"data":{"name":"a"},"mark":{"type":"line","color":"#0000FF","strokeWidth":4.5,"interpolate":"monotone","strokeJoin":"round","strokeCap":"round"}},
{"data":{"name":"b"},"mark":{"type":"line","color":"#1E90FF","strokeWidth":4.5,"interpolate":"monotone","strokeJoin":"round","strokeCap":"round"}},
{"data":{"name":"c"},"mark":{"type":"line","color":"#87CEFA","strokeWidth":4.5,"interpolate":"monotone","strokeJoin":"round","strokeCap":"round"}},
{"data":{"name":"d"},"mark":{"type":"line","color":"#FDF5E6","strokeWidth":4.5,"interpolate":"monotone","strokeJoin":"round","strokeCap":"round"}},
{"data":{"name":"e"},"mark":{"type":"line","color":"#FF7F50","strokeWidth":4.5,"interpolate":"monotone","strokeJoin":"round","strokeCap":"round"}},
{"data":{"name":"g"},"mark":{"type":"line","color":"#FF4500","strokeWidth":4.5,"interpolate":"monotone","strokeJoin":"round","strokeCap":"round"}}
]},
{"data":{"values":[{"arrow":1}]},"mark":{"type":"rule","color":"#FFFFFF","strokeWidth":3.5,"clip":false},"encoding":{"x":{"datum":5125.905,"type":"quantitative"},"y":{"datum":0.09,"type":"quantitative"},"y2":{"datum":8.32}}},
{"data":{"values":[{"arrow":1}]},"mark":{"type":"point","shape":"M -1 2 L 0 0 L 1 2","filled":false,"stroke":"#FFFFFF","strokeWidth":3.5,"size":400,"opacity":1,"strokeJoin":"miter","strokeCap":"round","clip":false},"encoding":{"x":{"datum":5125.905,"type":"quantitative"},"y":{"datum":8.33,"type":"quantitative"}}}
]
}
